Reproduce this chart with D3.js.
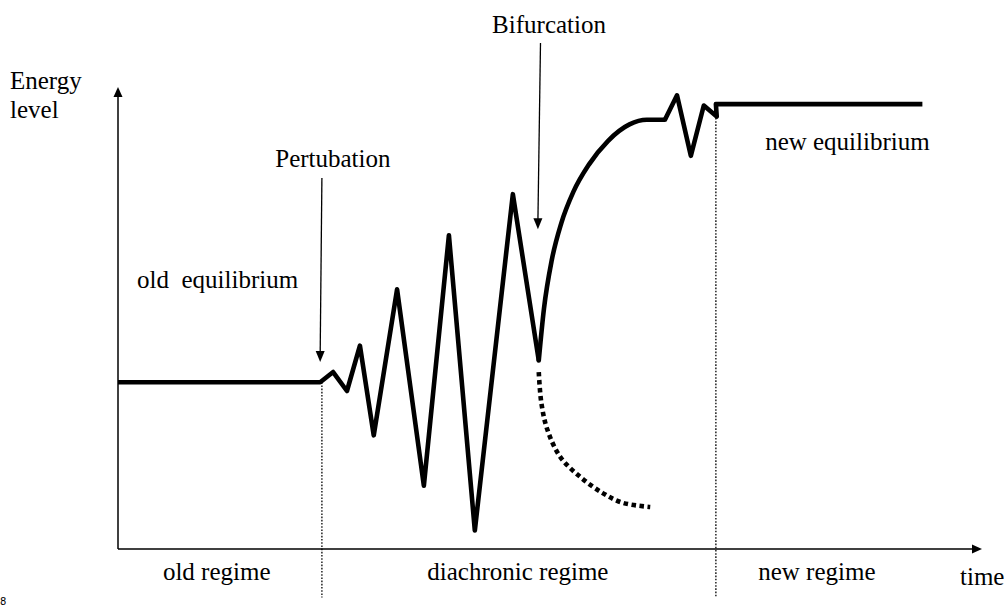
<!DOCTYPE html>
<html>
<head>
<meta charset="utf-8">
<script src="https://cdn.jsdelivr.net/npm/d3@7"></script>
<style>
  html, body { margin: 0; padding: 0; background: #fff; }
  svg { display: block; }
  text { font-family: "Liberation Serif", "Times New Roman", serif; font-size: 25px; fill: #000; white-space: pre; }
</style>
</head>
<body>
<svg id="chart" width="1005" height="607"></svg>
<script>
// ---- Data (time 0..100, energy 0..100) ----
const oscillation = [
  [0, 36.1], [23.4, 36.1], [24.9, 38.3], [26.5, 34.2], [28.0, 44.0], [29.6, 24.6],
  [32.3, 56.2], [35.4, 13.7], [38.3, 67.9], [41.3, 4.0], [45.7, 76.8], [48.7, 40.8]
];
const recovery = [
  [48.7, 40.8], [49.3, 52.0], [50.2, 62.5], [51.3, 70.5], [52.7, 77.3],
  [54.5, 83.2], [56.7, 88.3], [59.2, 91.9], [61.2, 92.9], [63.3, 92.9]
];
const newSettle = [
  [63.3, 92.9], [64.7, 98.2], [66.3, 85.1], [67.8, 96.0], [69.3, 93.6], [69.2, 96.3], [93.1, 96.3]
];
const altBranch = [
  [48.7, 38.3], [49.0, 31.6], [49.7, 25.8], [51.2, 19.9], [53.5, 15.6],
  [56.1, 12.1], [58.4, 10.0], [61.6, 9.1]
];
const regimeBounds = [ {t: 23.6, top: 36.1}, {t: 69.2, top: 93.3} ];
const regimeLabels = ["old regime", "diachronic regime", "new regime"];
const regimeLabelT = [5.2, 35.8, 74.1];
const stateLabels = [
  {text: "old  equilibrium", t: 2.2, e: 56.5},
  {text: "new equilibrium", t: 74.9, e: 86.3}
];
const events = [
  {text: "Pertubation", t: 23.6, tEnd: 23.4, labelT: 18.2, labelE: 82.7, from: 80.3, to: 40.5},
  {text: "Bifurcation", t: 48.9, tEnd: 48.6, labelT: 43.3, labelE: 111.7, from: 109.5, to: 69.2}
];
const axisTitles = { y: ["Energy", "level"], x: "time" };

// ---- Scales ----
const svg = d3.select("#chart");
const x = d3.scaleLinear().domain([0, 100]).range([118, 982]);
const y = d3.scaleLinear().domain([0, 100]).range([549, 87]);

const lineLin = d3.line().x(d => x(d[0])).y(d => y(d[1]));
const lineSmooth = d3.line().x(d => x(d[0])).y(d => y(d[1])).curve(d3.curveMonotoneX);
const lineDots = d3.line().x(d => x(d[0])).y(d => y(d[1])).curve(d3.curveCatmullRom.alpha(0.5));

// ---- Axes ----
svg.append("line").attr("x1", x(0)).attr("y1", y(0)).attr("x2", x(0)).attr("y2", y(100) + 8)
  .attr("stroke", "#000").attr("stroke-width", 1.5);
svg.append("path")
  .attr("d", `M${x(0)},${y(100)} L${x(0) - 4.5},${y(100) + 10} L${x(0) + 4.5},${y(100) + 10} Z`)
  .attr("fill", "#000");
svg.append("line").attr("x1", x(0)).attr("y1", y(0)).attr("x2", x(100) - 8).attr("y2", y(0))
  .attr("stroke", "#000").attr("stroke-width", 1.5);
svg.append("path")
  .attr("d", `M${x(100)},${y(0)} L${x(100) - 10},${y(0) - 4.5} L${x(100) - 10},${y(0) + 4.5} Z`)
  .attr("fill", "#000");

// ---- Regime boundaries (dotted) ----
svg.selectAll("line.bound").data(regimeBounds).enter().append("line")
  .attr("class", "bound")
  .attr("x1", d => x(d.t)).attr("x2", d => x(d.t))
  .attr("y1", d => y(d.top)).attr("y2", y(-10.5))
  .attr("stroke", "#000").attr("stroke-width", 1.3).attr("stroke-dasharray", "1.6,1.6");

// ---- Main curve ----
const thick = 4.6;
svg.append("path").attr("d", lineLin(oscillation)).attr("fill", "none")
  .attr("stroke", "#000").attr("stroke-width", thick).attr("stroke-linejoin", "round");
svg.append("path").attr("d", lineSmooth(recovery)).attr("fill", "none")
  .attr("stroke", "#000").attr("stroke-width", thick).attr("stroke-linecap", "round");
svg.append("path").attr("d", lineLin(newSettle)).attr("fill", "none")
  .attr("stroke", "#000").attr("stroke-width", thick).attr("stroke-linejoin", "round");
svg.append("path").attr("d", lineDots(altBranch)).attr("fill", "none")
  .attr("stroke", "#000").attr("stroke-width", 4.6).attr("stroke-dasharray", "4.5,3.5");

// ---- Event arrows ----
events.forEach(ev => {
  const x1 = x(ev.t), y1 = y(ev.from), x2 = x(ev.tEnd), y2 = y(ev.to);
  svg.append("line").attr("x1", x1).attr("y1", y1).attr("x2", x2).attr("y2", y2 - 8)
    .attr("stroke", "#000").attr("stroke-width", 1.3);
  svg.append("path")
    .attr("d", `M${x2},${y2} L${x2 - 4.5},${y2 - 11} L${x2 + 4.5},${y2 - 11} Z`)
    .attr("fill", "#000");
  svg.append("text").attr("x", x(ev.labelT)).attr("y", y(ev.labelE)).text(ev.text);
});

// ---- Labels ----
svg.selectAll("text.state").data(stateLabels).enter().append("text")
  .attr("class", "state").attr("x", d => x(d.t)).attr("y", d => y(d.e)).text(d => d.text);

svg.selectAll("text.regime").data(regimeLabels).enter().append("text")
  .attr("class", "regime")
  .attr("x", (d, i) => x(regimeLabelT[i])).attr("y", 580).text(d => d);

svg.append("text").attr("x", 10).attr("y", 89).text(axisTitles.y[0]);
svg.append("text").attr("x", 10).attr("y", 118).text(axisTitles.y[1]);
svg.append("text").attr("x", 960).attr("y", 585).text(axisTitles.x);

svg.append("text").attr("x", 0).attr("y", 605)
  .style("font-family", "DejaVu Sans, sans-serif").style("font-size", "10px").text("8");
</script>
</body>
</html>
